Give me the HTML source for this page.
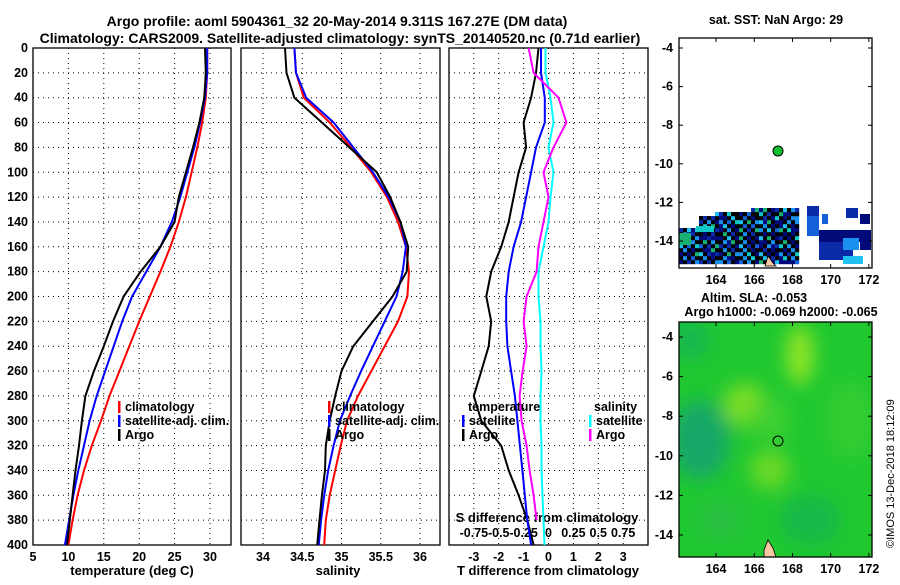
<!DOCTYPE html>
<html><head><meta charset="utf-8"><style>
body{margin:0;background:#fff}
svg{font-family:"Liberation Sans",sans-serif;font-weight:bold}
text{font-size:12.5px}
</style></head><body>
<svg id="c" width="900" height="580" viewBox="0 0 900 580" xmlns="http://www.w3.org/2000/svg">
<text x="337" y="26" text-anchor="middle" style="font-size:14px">Argo profile: aoml 5904361_32 20-May-2014 9.311S 167.27E (DM data)</text>
<text x="340" y="43" text-anchor="middle" style="font-size:14px">Climatology: CARS2009. Satellite-adjusted climatology: synTS_20140520.nc (0.71d earlier)</text>
<text x="132" y="575" text-anchor="middle" style="font-size:13px">temperature (deg C)</text>
<text x="338" y="575" text-anchor="middle" style="font-size:13px">salinity</text>
<text x="548" y="575" text-anchor="middle" style="font-size:13px">T difference from climatology</text>
<text x="547" y="522" text-anchor="middle" style="font-size:13px">S difference from climatology</text>
<text x="776" y="24" text-anchor="middle">sat. SST: NaN Argo: 29</text>
<text x="754" y="302" text-anchor="middle">Altim. SLA: -0.053</text>
<text x="781" y="316" text-anchor="middle">Argo h1000: -0.069 h2000: -0.065</text>
<text transform="translate(894,548) rotate(-90)" style="font-size:11px;font-weight:normal">©IMOS 13-Dec-2018 18:12:09</text>
</svg>
<script>
const depths=[0,20,40,60,80,100,120,140,160,180,200,220,240,260,280,300,320,340,360,380,400];
const argoT=[29.3,29.4,29.2,28.5,27.6,26.6,25.6,25.0,23.0,20.2,17.8,16.3,15.0,13.6,12.4,11.9,11.5,11.0,10.6,10.2,9.8];
const satT=[29.6,29.6,29.3,28.6,27.8,26.8,25.8,24.6,23.0,21.0,19.0,17.6,16.4,15.2,14.0,13.0,12.2,11.4,10.7,10.1,9.5];
const climT=[29.6,29.6,29.4,28.9,28.2,27.4,26.6,25.6,24.4,23.0,21.5,20.0,18.6,17.2,15.8,14.6,13.3,12.2,11.3,10.6,10.0];
const argoS=[34.28,34.30,34.40,34.75,35.10,35.45,35.62,35.75,35.85,35.83,35.65,35.40,35.15,35.00,34.92,34.85,34.80,34.79,34.75,34.72,34.69];
const satS=[34.40,34.42,34.55,34.90,35.15,35.40,35.60,35.75,35.82,35.78,35.70,35.55,35.40,35.25,35.11,34.98,34.90,34.83,34.78,34.74,34.71];
const climS=[34.40,34.42,34.52,34.85,35.12,35.38,35.58,35.72,35.82,35.86,35.84,35.72,35.55,35.38,35.21,35.07,34.99,34.92,34.85,34.80,34.78];
const argoTdiff=[-0.4,-0.5,-0.7,-1.0,-0.9,-1.2,-1.4,-1.6,-1.9,-2.3,-2.5,-2.3,-2.4,-2.7,-3.0,-2.7,-1.9,-1.6,-1.2,-0.85,-0.6];
const satTdiff=[-0.3,-0.3,-0.15,-0.15,-0.5,-0.7,-0.9,-1.1,-1.4,-1.6,-1.7,-1.7,-1.65,-1.5,-1.35,-1.25,-1.15,-1.05,-0.95,-0.85,-0.7];
const satSdiff=[-0.03,-0.03,0.02,0.05,0.0,0.05,0.02,0.0,-0.05,-0.1,-0.1,-0.08,-0.08,-0.07,-0.08,-0.08,-0.07,-0.07,-0.06,-0.05,-0.04];
const argoSdiff=[-0.2,-0.15,0.1,0.18,0.05,-0.05,0.0,-0.05,-0.1,-0.12,-0.22,-0.25,-0.22,-0.26,-0.29,-0.27,-0.22,-0.19,-0.15,-0.12];
const depthTicks=[0,20,40,60,80,100,120,140,160,180,200,220,240,260,280,300,320,340,360,380,400];
const tTicks=[5,10,15,20,25,30];
const sTicks=[34,34.5,35,35.5,36];
const tdTicks=[-3,-2,-1,0,1,2,3];
const sdTicks=[-0.75,-0.5,-0.25,0,0.25,0.5,0.75];
const sdLabels=["-0.75","-0.5","-0.25","0","0.25","0.5","0.75"];
const latTicks=[-4,-6,-8,-10,-12,-14];
const lonTicks=[164,166,168,170,172];

const NS="http://www.w3.org/2000/svg";
const svg=document.getElementById('c');
function mk(tag,attrs,parent){const e=document.createElementNS(NS,tag);for(const k in attrs)e.setAttribute(k,attrs[k]);(parent||svg).appendChild(e);return e;}
const Y0=48,Y1=545;
const yD=d=>Y0+(d/400)*(Y1-Y0);
const P1={x0:33,x1:231},P2={x0:241,x1:440},P3={x0:449,x1:648};
const xT=t=>33+(t-5)*7.08;
const xS=s=>263+(s-34)*78.5;
const xTD=d=>548.5+d*24.9;
const xSD=d=>548.5+d*99.5;

function panel(P,name){
  const r=mk('rect',{x:P.x0,y:Y0,width:P.x1-P.x0,height:Y1-Y0,fill:'none',stroke:'#000','stroke-width':1.3});
  
  
  depthTicks.forEach(d=>{if(d>0&&d<400){const l=mk('line',{x1:P.x0,x2:P.x1,y1:yD(d),y2:yD(d),stroke:'#000','stroke-dasharray':'1 4'});
    
    }});
}
function vgrid(P,ticks,fx,labY,labels){
  ticks.forEach((t,i)=>{const x=fx(t);
    const l=mk('line',{x1:x,x2:x,y1:Y0,y2:Y1,stroke:'#000','stroke-dasharray':'1 4'});
    
    
    if(labY){const tx=mk('text',{x:x,y:labY,'text-anchor':'middle'});tx.textContent=labels?labels[i]:t;
      
      }
  });
}
panel(P1,'temperature-panel');panel(P2,'salinity-panel');panel(P3,'difference-panel');
vgrid(P1,tTicks,xT,561);vgrid(P2,sTicks,xS,561);vgrid(P3,tdTicks,xTD,561);
depthTicks.forEach(d=>{const t=mk('text',{x:28,y:yD(d)+4,'text-anchor':'end'});t.textContent=d;
  
  });
sdTicks.forEach((s,i)=>{const t=mk('text',{x:xSD(s),y:537,'text-anchor':'middle'});t.textContent=sdLabels[i];
  
  });

function line(vals,fx,color,name,P){
  const pts=vals.map((v,i)=>Math.max(P.x0,Math.min(P.x1,fx(v))).toFixed(1)+','+yD(depths[i]).toFixed(1)).join(' ');
  const p=mk('polyline',{points:pts,fill:'none',stroke:color,'stroke-width':2,'stroke-linejoin':'round'});
  
  
}
line(climT,xT,'#f00','climatology-temperature-line',P1);
line(satT,xT,'#00f','satellite-temperature-line',P1);
line(argoT,xT,'#000','argo-temperature-line',P1);
line(climS,xS,'#f00','climatology-salinity-line',P2);
line(satS,xS,'#00f','satellite-salinity-line',P2);
line(argoS,xS,'#000','argo-salinity-line',P2);
line(argoTdiff,xTD,'#000','argo-t-diff-line',P3);
line(satTdiff,xTD,'#00f','satellite-t-diff-line',P3);
line(satSdiff,xSD,'#0ff','satellite-s-diff-line',P3);
line(argoSdiff,xSD,'#f0f','argo-s-diff-line',P3);

function legend(x,y,color,label){
  const g=mk('g',{});
  
  
  if(color)mk('rect',{x:x,y:y-10,width:2.5,height:12,fill:color},g);
  const t=mk('text',{x:color?x+7:x,y:y},g);t.textContent=label;
}
legend(118,411,'#f00','climatology');legend(118,425,'#00f','satellite-adj. clim.');legend(118,439,'#000','Argo');
legend(328,411,'#f00','climatology');legend(328,425,'#00f','satellite-adj. clim.');legend(328,439,'#000','Argo');
legend(468,411,null,'temperature');legend(462,425,'#00f','satellite');legend(462,439,'#000','Argo');
legend(594,411,null,'salinity');legend(589,425,'#0ff','satellite');legend(589,439,'#f0f','Argo');

function mapFrame(x0,y0,x1,y1,latY,name){
  const r=mk('rect',{x:x0,y:y0,width:x1-x0,height:y1-y0,fill:'none',stroke:'#000','stroke-width':1.3});
  
  
  const lonX=l=>x0+(l-162.06)*19.1*(x1-x0)/193;
  lonTicks.forEach(l=>{const x=lonX(l);mk('line',{x1:x,x2:x,y1:y1,y2:y1-4,stroke:'#000'});mk('line',{x1:x,x2:x,y1:y0,y2:y0+4,stroke:'#000'});
    const t=mk('text',{x:x,y:y1+16,'text-anchor':'middle'});t.textContent=l;
    
    });
  latTicks.forEach(l=>{const y=latY(l);mk('line',{x1:x0,x2:x0+4,y1:y,y2:y,stroke:'#000'});mk('line',{x1:x1,x2:x1-4,y1:y,y2:y,stroke:'#000'});
    const t=mk('text',{x:x0-6,y:y+4,'text-anchor':'end'});t.textContent=l;
    
    });
}
// SST map cells (decorative texture)
const cols=['#000a78','#0b2aa8','#1460d8','#1a90f0','#20c0f0','#000a78','#18b070','#000a78','#1a90f0','#0b2aa8','#10c8c8'];
const sst=mk('g',{});


const tops=[9,9,9,9,9,12,12,12,12,13,13,13,13,13,13,13,13,13,14,14,14,14,14,14,14,14,14,14,14,14];
for(let j=0;j<14;j++){for(let i=0;i<30;i++){
  if(j>=tops[i])continue;
  const x=679+i*4,y=264-(j+1)*4;
  let h=Math.imul(i*374761393+j*668265263,1274126177)>>>0; h=(h^(h>>>13))%cols.length;
  mk('rect',{x:x,y:y,width:4.2,height:4.2,fill:cols[h]},sst);}}
[[807,206,12,10,'#0b2aa8'],[807,216,12,20,'#1460d8'],[819,230,50,12,'#000a78'],[819,242,34,18,'#0b2aa8'],[822,214,6,10,'#1460d8'],[846,208,12,10,'#0b2aa8'],[860,214,10,10,'#000a78'],[860,230,11,20,'#000a78'],[843,238,16,12,'#1a90f0'],[843,256,20,8,'#20c0f0'],[679,233,12,12,'#18b070'],[696,226,18,6,'#10c8c8']].forEach(a=>mk('rect',{x:a[0],y:a[1],width:a[2],height:a[3],fill:a[4]},sst));
mk('path',{d:'M765,266 l3,-10 l5,7 l3,3 z',fill:'#f8c8a0',stroke:'#000','stroke-width':0.8});
const dot=mk('circle',{cx:778,cy:151,r:5,fill:'#10c030',stroke:'#000','stroke-width':1});


mapFrame(679,38,872,268,l=>48+(-4-l)*19.3,'sst-map');

// SLA map
const defs=mk('defs',{});
const f=mk('filter',{id:'bl',x:'-50%',y:'-50%',width:'200%',height:'200%'},defs);mk('feGaussianBlur',{stdDeviation:9},f);
const cp=mk('clipPath',{id:'cp'},defs);mk('rect',{x:679,y:322,width:193,height:235},cp);
const sla=mk('g',{'clip-path':'url(#cp)'});


mk('rect',{x:679,y:322,width:193,height:235,fill:'#20c830'},sla);
const bg=mk('g',{filter:'url(#bl)'},sla);
[[800,355,14,30,'#8ee428'],[745,405,22,22,'#78dc28'],[770,470,20,20,'#6ad828'],[700,440,30,40,'#12a868'],[690,340,20,20,'#18b850'],[850,420,25,40,'#30cc30'],[810,520,30,25,'#18b848'],[720,520,25,20,'#28c040'],[770,420,20,20,'#40d030']].forEach(a=>mk('ellipse',{cx:a[0],cy:a[1],rx:a[2],ry:a[3],fill:a[4]},bg));
mk('path',{d:'M764,550 l4,-10 l5,8 l3,9 l-12,0 z',fill:'#f8c8a0',stroke:'#000','stroke-width':0.8},sla);
const ring=mk('circle',{cx:778,cy:441,r:5,fill:'none',stroke:'#000','stroke-width':1});


mapFrame(679,322,872,557,l=>337+(-4-l)*19.8,'sla-map');
</script>
</body></html>
